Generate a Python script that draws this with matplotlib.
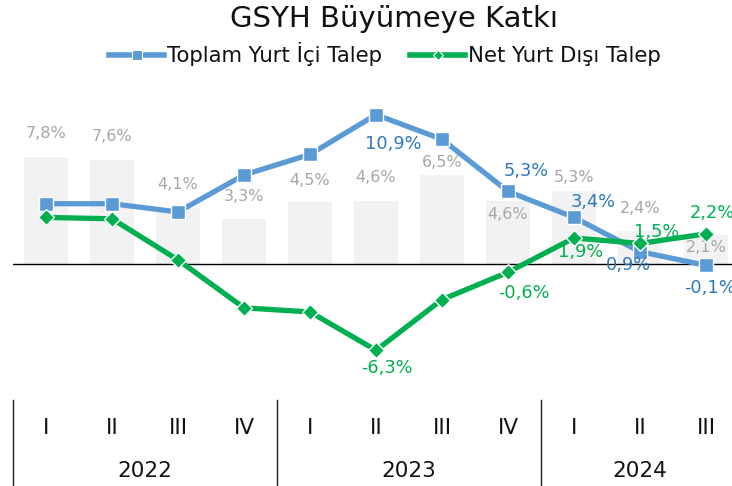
import matplotlib
matplotlib.use("Agg")
import matplotlib.pyplot as plt
import matplotlib.transforms as mtransforms
from matplotlib.lines import Line2D

# veri
ceyrekler = ["I", "II", "III", "IV", "I", "II", "III", "IV", "I", "II", "III"]
yillar = ["2022", "2023", "2024"]
gsyh = [7.8, 7.6, 4.1, 3.3, 4.5, 4.6, 6.5, 4.6, 5.3, 2.4, 2.1]
yurt_ici = [4.4, 4.4, 3.8, 6.5, 8.0, 10.9, 9.1, 5.3, 3.4, 0.9, -0.1]
yurt_disi = [3.4, 3.3, 0.3, -3.2, -3.5, -6.3, -2.6, -0.6, 1.9, 1.5, 2.2]

# etiket yerleri (piksel ofset), None = etiket yok
bar_ofs = [24, 23, 23, 22, 22, 23, 12, -14, 14, 23, -12]
ici_ofs = [None, None, None, None, None, (17, -29), None, (18, 20), (19, 15), (-12, -13), (4, -23)]
disi_ofs = [None, None, None, None, None, (11, -18), None, (16, -21), (7, -14), (17, 11), (6, 21)]

MAVI = "#5B9BD5"
YESIL = "#00B050"
MAVI_YAZI = "#2E78C0"
GRI = "#F2F2F2"
GRI_YAZI = "#A6A6A6"

plt.rcParams["font.family"] = ["DejaVu Sans"]

fig = plt.figure(figsize=(7.32, 4.86), dpi=100)
W, H = 732, 486
x0 = 13
step = 66
ax = fig.add_axes([x0 / W, (H - 390) / H, (W - x0) / W, 310 / H])
ppu = 13.7
ax.set_xlim(-0.5, -0.5 + (W - x0) / step)
ax.set_ylim(-(390 - 264) / ppu, (264 - 80) / ppu)
ax.axis("off")

x = list(range(len(gsyh)))
ax.bar(x, gsyh, width=0.67, color=GRI, zorder=1)
ax.axhline(0, color="black", lw=1.0, zorder=2)

ax.plot(x, yurt_ici, color=MAVI, lw=3.8, marker="s", ms=10, mfc=MAVI,
        mec="white", mew=1.0, zorder=4)
ax.plot(x, yurt_disi, color=YESIL, lw=3.8, marker="D", ms=8, mfc=YESIL,
        mec="white", mew=1.0, zorder=5)

for i, v in enumerate(gsyh):
    ax.annotate(f"{v:.1f}%".replace(".", ","), (i, v), xytext=(0, bar_ofs[i]),
                textcoords="offset pixels", ha="center", va="center",
                fontsize=11.5, color=GRI_YAZI, zorder=3)
for i, v in enumerate(yurt_ici):
    if ici_ofs[i] is None:
        continue
    ax.annotate(f"{v:.1f}%".replace(".", ","), (i, v), xytext=ici_ofs[i],
                textcoords="offset pixels", ha="center", va="center",
                fontsize=12.8, color=MAVI_YAZI, zorder=6)
for i, v in enumerate(yurt_disi):
    if disi_ofs[i] is None:
        continue
    ax.annotate(f"{v:.1f}%".replace(".", ","), (i, v), xytext=disi_ofs[i],
                textcoords="offset pixels", ha="center", va="center",
                fontsize=12.8, color=YESIL, zorder=6)

# kategori ekseni
tr = mtransforms.blended_transform_factory(ax.transData, fig.transFigure)
for i, q in enumerate(ceyrekler):
    ax.text(i, (H - 428) / H, q, transform=tr, ha="center", va="center",
            fontsize=15.5, color="#111111", clip_on=False)
for j, yil in enumerate(yillar):
    n = 4 if j < 2 else 3
    ax.text(4 * j + (n - 1) / 2, (H - 471) / H, yil, transform=tr, ha="center",
            va="center", fontsize=15.5, color="#111111", clip_on=False)
for b in [-0.5, 3.5, 7.5]:
    ax.add_line(Line2D([b, b], [0, (H - 400) / H], transform=tr, color="#222222",
                       lw=1.0, clip_on=False))

fig.text(394 / W, (H - 19) / H, "GSYH Büyümeye Katkı", ha="center", va="center",
         fontsize=21, color="#111111")

handles = [
    Line2D([], [], color=MAVI, lw=4, marker="s", ms=7, mec="white", mew=0.8),
    Line2D([], [], color=YESIL, lw=4, marker="D", ms=5.5, mec="white", mew=0.8),
]
leg = fig.legend(handles, ["Toplam Yurt İçi Talep", "Net Yurt Dışı Talep"],
                 loc="center", bbox_to_anchor=(385 / W, (H - 54) / H), ncol=2,
                 frameon=False, fontsize=15.3, handlelength=2.6, handletextpad=0.15,
                 columnspacing=1.3)
for t in leg.get_texts():
    t.set_color("#111111")

fig.savefig("out.png", dpi=100)
